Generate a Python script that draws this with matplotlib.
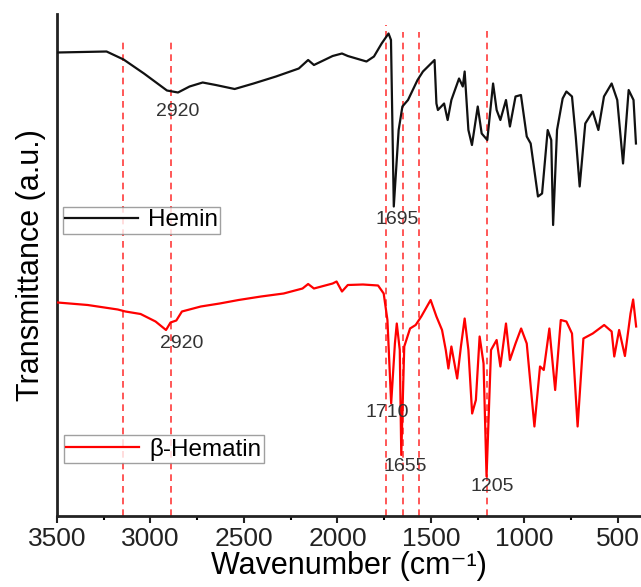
import matplotlib
matplotlib.use("Agg")
import matplotlib.pyplot as plt
from matplotlib.ticker import MultipleLocator

plt.rcParams["font.family"] = ["Liberation Sans", "DejaVu Sans"]

# --- spectra (wavenumber, transmittance a.u.) ---
hemin_wn = [3497, 3235, 3144, 3035, 2912, 2853, 2791, 2721, 2651, 2550, 2449, 2329, 2207, 2157,
            2126, 2026, 1976, 1945, 1845, 1805, 1764, 1727, 1714, 1699, 1673, 1653, 1623, 1572,
            1543, 1481, 1471, 1463, 1430, 1411, 1391, 1350, 1330, 1320, 1300, 1281, 1250, 1229,
            1199, 1168, 1149, 1129, 1099, 1078, 1048, 1019, 988, 967, 928, 906, 876, 857, 847,
            826, 796, 776, 746, 726, 705, 675, 635, 605, 575, 534, 504, 473, 443, 417, 404]
hemin_t = [92.1, 92.3, 90.7, 87.9, 84.5, 84.1, 85.3, 86.1, 85.6, 84.8, 85.9, 87.3, 88.9, 90.6,
           89.6, 91.4, 91.9, 91.4, 90.3, 91.3, 93.9, 95.9, 94.6, 61.3, 76.6, 81.3, 82.6, 86.6,
           88.3, 90.6, 81.9, 80.6, 81.9, 78.6, 82.6, 86.9, 85.3, 88.3, 76.6, 73.6, 81.3, 75.9,
           74.6, 85.9, 80.6, 78.6, 82.6, 77.3, 83.3, 83.6, 75.3, 73.9, 63.3, 63.9, 76.6, 74.6, 57.6,
           76.6, 82.9, 84.3, 83.3, 75.3, 65.3, 77.9, 80.3, 76.6, 83.3, 85.9, 82.6, 69.9, 84.6, 82.6, 73.9]

hematin_wn = [3497, 3336, 3175, 3134, 3053, 2973, 2917, 2893, 2862, 2832, 2731, 2630, 2529, 2409,
              2288, 2187, 2157, 2126, 2026, 2005, 1976, 1945, 1864, 1783, 1753, 1733, 1713, 1693,
              1683, 1667, 1659, 1643, 1612, 1582, 1552, 1502, 1471, 1441, 1421, 1407, 1391, 1360,
              1340, 1320, 1300, 1280, 1260, 1240, 1219, 1203, 1179, 1149, 1129, 1099, 1078, 1048,
              1018, 988, 947, 917, 897, 867, 836, 806, 776, 746, 716, 685, 635, 574, 534, 520, 494,
              463, 433, 419, 403]
hematin_t = [42.1, 41.6, 40.7, 40.3, 39.8, 38.3, 36.6, 38.1, 38.5, 40.3, 41.3, 41.9, 42.6, 43.3,
             43.9, 44.9, 45.8, 44.9, 45.9, 46.3, 44.3, 45.6, 45.7, 45.5, 43.9, 38.6, 21.9, 33.9,
             37.9, 32.6, 11.6, 33.3, 36.9, 37.6, 39.3, 42.6, 39.3, 36.6, 32.6, 28.9, 33.3, 26.9,
             33.3, 38.9, 32.6, 19.9, 22.6, 35.3, 29.9, 7.3, 32.6, 34.6, 29.3, 37.9, 30.6, 33.9,
             36.9, 33.9, 17.3, 29.3, 28.6, 36.9, 24.6, 38.6, 38.3, 35.9, 17.3, 34.9, 35.9, 37.6,
             36.3, 31.3, 36.6, 31.4, 39.9, 42.7, 37.3]

# dashed marker lines
guide_wn = [3145, 2890, 1740, 1650, 1565, 1200]
guide_top = [94.9, 94.9, 97.6, 96.2, 96.2, 96.3]

# peak labels
peak_text = ["2920", "1695", "2920", "1710", "1655", "1205"]
peak_wn = [2856, 1679, 2832, 1733, 1639, 1175]
peak_t = [80.3, 58.6, 33.9, 20.1, 9.3, 5.3]

fig = plt.figure(figsize=(6.41, 5.87), dpi=100)
ax = fig.add_axes([57 / 641, 71 / 587, 584 / 641, 502 / 587])

ymin = -0.6
for wn, top in zip(guide_wn, guide_top):
    ax.plot([wn, wn], [ymin, top], color="#ff3b3b", lw=1.2, ls=(0, (4, 3)), zorder=1)

l1, = ax.plot(hemin_wn, hemin_t, color="#111111", lw=1.6, label="Hemin", zorder=3)
l2, = ax.plot(hematin_wn, hematin_t, color="#ff0000", lw=1.6, label="β-Hematin", zorder=3)

for txt, wn, t in zip(peak_text, peak_wn, peak_t):
    ax.text(wn, t, txt, ha="center", va="center", fontsize=14, color="#333333", zorder=4)

ax.set_xlim(3500, 377)
ax.set_ylim(ymin, 99.8)
ax.xaxis.set_major_locator(MultipleLocator(500))
ax.xaxis.set_minor_locator(MultipleLocator(250))
ax.tick_params(axis="x", which="major", direction="out", length=5, width=1.5,
               labelsize=19, colors="#222222", pad=3)
ax.tick_params(axis="x", which="minor", direction="out", length=3, width=1.5)
ax.set_yticks([])

for side in ["top", "right"]:
    ax.spines[side].set_visible(False)
for side in ["left", "bottom"]:
    ax.spines[side].set_linewidth(2)
    ax.spines[side].set_color("#222222")

ax.set_xlabel("Wavenumber (cm⁻¹)", fontsize=22, labelpad=0)
ax.set_ylabel("Transmittance (a.u.)", fontsize=22, labelpad=8)

leg_kw = dict(loc="upper left", fontsize=17.5, frameon=True, fancybox=False, borderpad=0.1,
              handlelength=3.0, handletextpad=0.4, borderaxespad=0)
leg1 = ax.legend(handles=[l1], bbox_to_anchor=(0.0098, 0.6155), **leg_kw)
leg1.get_frame().set_edgecolor("#888888")
leg1.get_frame().set_linewidth(1.0)
ax.add_artist(leg1)
leg2 = ax.legend(handles=[l2], bbox_to_anchor=(0.012, 0.161), **leg_kw)
leg2.get_frame().set_edgecolor("#888888")
leg2.get_frame().set_linewidth(1.0)

fig.savefig("out.png", dpi=100)
